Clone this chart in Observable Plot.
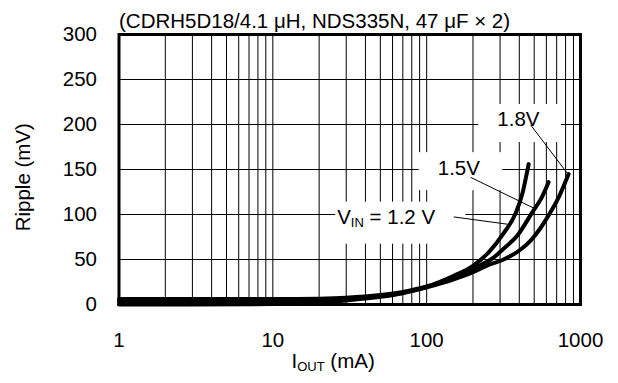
<!DOCTYPE html>
<html><head><meta charset="utf-8">
<script src="https://cdn.jsdelivr.net/npm/d3@7"></script>
<script src="https://cdn.jsdelivr.net/npm/@observablehq/plot@0.6"></script>
<style>body{margin:0;background:#fff} svg{display:block}</style>
</head><body><div id="chart"></div>
<script>
// ---- data ----
const titleText = "(CDRH5D18/4.1 \u03BCH, NDS335N, 47 \u03BCF \u00D7 2)";
const xLabelText = "IOUT (mA)";
const yLabelText = "Ripple (mV)";
const xTickValues = [1, 10, 100, 1000];
const yTickValues = [0, 50, 100, 150, 200, 250, 300];
const xGridValues = [2,3,4,5,6,7,8,9,10,20,30,40,50,60,70,80,90,100,200,300,400,500,600,700,800,900];

const seriesNames = ["1.2V", "1.5V", "1.8V"];
const iout12 = [1, 3, 10, 20, 30, 50, 70, 100, 150, 200, 253, 316, 378, 420, 460];
const rip12  = [6, 6, 6, 6.5, 7.5, 10.5, 14, 20, 32, 43, 58, 79, 101, 124, 156];
const iout15 = [1, 3, 10, 20, 30, 50, 70, 100, 150, 200, 272, 316, 390, 488, 560, 620];
const rip15  = [3, 3, 3, 4, 6, 9.5, 13, 19.5, 30, 40, 52, 62, 77, 103, 119, 136];
const iout18 = [1, 3, 10, 20, 30, 50, 70, 100, 150, 200, 253, 316, 400, 474, 550, 620, 721, 837];
const rip18  = [0, 0, 0.5, 2, 4.5, 8.5, 12.5, 19, 28, 36, 44, 50, 60, 71, 85, 99, 119, 145];

// annotation labels (data units) and leader lines (data units)
const labelText = ["1.8V", "1.5V", "VIN = 1.2 V"];
const labelX    = [288, 118, 26.2];
const labelY    = [205.6, 151, 97.1];
const leadX1 = [474, 193, 150];
const leadY1 = [199.6, 141.3, 97.3];
const leadX2 = [821, 498, 336];
const leadY2 = [145.8, 107, 89.2];

// ---- build tables ----
const points = [];
[[iout12, rip12], [iout15, rip15], [iout18, rip18]].forEach(([xs, ys], i) =>
  xs.forEach((x, j) => points.push({series: seriesNames[i], iout: x, ripple: ys[j]})));
const labels = labelText.map((t, i) => ({text: t, x: labelX[i], y: labelY[i]}));
const leaders = leadX1.map((x, i) => ({x1: x, y1: leadY1[i], x2: leadX2[i], y2: leadY2[i]}));

const FONT = "'Liberation Sans', Arial, Helvetica, sans-serif";
const FS = 20.5;

const chart = Plot.plot({
  width: 618, height: 383,
  marginLeft: 118.5, marginRight: 38, marginTop: 34, marginBottom: 79,
  style: {fontFamily: FONT, fontSize: FS + "px", background: "white", color: "black"},
  x: {type: "log", domain: [1, 1000], ticks: xTickValues, tickFormat: d => String(d),
      tickSize: 0, tickPadding: 28, label: null},
  y: {domain: [0, 300], ticks: yTickValues, tickSize: 0, tickPadding: 22, label: null},
  marks: [
    Plot.ruleX(xGridValues, {stroke: "black", strokeWidth: 1}),
    Plot.ruleY(yTickValues, {stroke: "black", strokeWidth: 1}),
    Plot.frame({stroke: "black", strokeWidth: 3}),
    Plot.line(points, {x: "iout", y: "ripple", z: "series", stroke: "black",
      strokeWidth: 4, curve: "monotone-x", strokeLinecap: "round"}),
    Plot.link(leaders, {x1: "x1", y1: "y1", x2: "x2", y2: "y2", stroke: "black", strokeWidth: 1}),
    Plot.text(labels, {x: "x", y: "y", text: "text", textAnchor: "start", lineAnchor: "middle",
      fill: "black", fontSize: FS}),
    Plot.text([titleText], {frameAnchor: "top-left", textAnchor: "start", lineAnchor: "middle",
      dy: -13.3, fontSize: FS}),
    Plot.text([xLabelText], {frameAnchor: "bottom-left", textAnchor: "start", lineAnchor: "middle",
      dx: 172.5, dy: 56.5, fontSize: FS}),
    Plot.text([yLabelText], {frameAnchor: "left", textAnchor: "middle", lineAnchor: "middle",
      rotate: -90, dx: -96, dy: 7.7, fontSize: FS})
  ]
});
document.getElementById("chart").append(chart);

// subscripts
function subscript(textEl, main, sub, rest) {
  const t = d3.select(textEl);
  t.text(null);
  t.append("tspan").text(main);
  t.append("tspan").attr("font-size", "13px").attr("dy", "3").text(sub);
  t.append("tspan").attr("dy", "-3").text(rest);
}
const svg = chart;
svg.querySelectorAll("text").forEach(el => {
  if (el.textContent === "VIN = 1.2 V") subscript(el, "V", "IN", " = 1.2 V");
  else if (el.textContent === "IOUT (mA)") subscript(el, "I", "OUT", " (mA)");
});

// white boxes behind annotation labels (padding: left, right, top, bottom)
const pads = {"1.8V": [19, 21, 3, 12], "1.5V": [19, 22, 4, 11], "VIN = 1.2 V": [2, 30, 3, 14]};
const svgRect = svg.getBoundingClientRect();
const boxes = [];
svg.querySelectorAll("text").forEach(el => {
  const p = pads[el.textContent];
  if (!p) return;
  const r = el.getBoundingClientRect();
  boxes.push({x: r.left - svgRect.left - p[0], y: r.top - svgRect.top - p[2],
              w: r.width + p[0] + p[1], h: r.height + p[2] + p[3]});
});
const linkG = svg.querySelector('g[aria-label="link"]');
const boxG = document.createElementNS("http://www.w3.org/2000/svg", "g");
svg.insertBefore(boxG, linkG);
d3.select(boxG).selectAll("rect").data(boxes).join("rect")
  .attr("x", d => d.x).attr("y", d => d.y).attr("width", d => d.w).attr("height", d => d.h)
  .attr("fill", "white");
</script></body></html>
